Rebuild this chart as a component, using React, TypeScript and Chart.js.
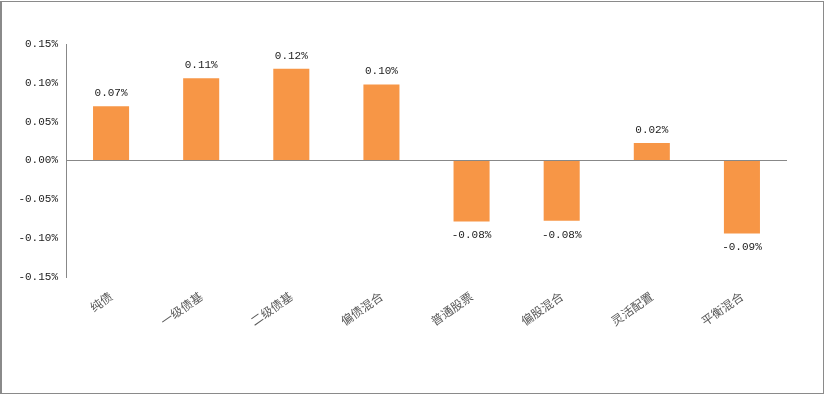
import React, { useEffect, useRef } from "react";
import { Chart, registerables } from "chart.js";

Chart.register(...registerables);

const categories = ["纯债", "一级债基", "二级债基", "偏债混合", "普通股票", "偏股混合", "灵活配置", "平衡混合"];
const values = [0.07, 0.106, 0.118, 0.098, -0.0785, -0.0777, 0.0224, -0.094];
const yMin = -0.15;
const yMax = 0.15;
const yStep = 0.05;

const fmt = (v: number) => `${(Math.round(v * 100 + 1e-9 * Math.sign(v)) / 100).toFixed(2)}%`;

const valueLabels = {
  id: "valueLabels",
  afterDatasetsDraw(chart: any) {
    const ctx = chart.ctx;
    const meta = chart.getDatasetMeta(0);
    ctx.save();
    ctx.font = "11px 'Liberation Mono', 'DejaVu Sans Mono', monospace";
    ctx.fillStyle = "#222";
    ctx.textAlign = "center";
    ctx.textBaseline = "middle";
    meta.data.forEach((bar: any, i: number) => {
      const v = values[i];
      const y = v >= 0 ? bar.y - 13 : bar.y + 14;
      ctx.fillText(fmt(v), bar.x, y);
    });
    ctx.restore();
  },
};

export default function App() {
  const ref = useRef<HTMLCanvasElement>(null);
  useEffect(() => {
    document.body.style.margin = "0";
    const chart = new Chart(ref.current!, {
      type: "bar",
      data: {
        labels: categories,
        datasets: [
          {
            data: values,
            backgroundColor: "#F79646",
            categoryPercentage: 1,
            barPercentage: 0.4,
          },
        ],
      },
      options: {
        animation: false,
        responsive: false,
        maintainAspectRatio: false,
        layout: { padding: { top: 42, right: 36, left: 0, bottom: 0 } },
        plugins: { legend: { display: false }, tooltip: { enabled: false } },
        scales: {
          x: {
            grid: { display: false, drawTicks: false },
            border: { display: false },
            ticks: {
              maxRotation: 35,
              minRotation: 35,
              padding: 12,
              color: "#595959",
              font: { family: "'Noto Sans CJK SC', sans-serif", size: 12 },
            },
            afterFit: (s: any) => {
              s.height = 115;
            },
          },
          y: {
            min: yMin,
            max: yMax,
            border: { display: true, color: "#888", width: 1 },
            grid: {
              drawTicks: false,
              color: (c: any) => (c.tick && Math.abs(c.tick.value) < 1e-9 ? "#888" : "transparent"),
              lineWidth: 1,
            },
            ticks: {
              stepSize: yStep,
              padding: 8,
              color: "#222",
              font: { family: "'Liberation Mono', 'DejaVu Sans Mono', monospace", size: 11 },
              callback: (v: any) => fmt(Number(v)),
            },
            afterFit: (s: any) => {
              s.width = 64;
            },
          },
        },
      },
      plugins: [valueLabels],
    });
    return () => chart.destroy();
  }, []);
  return (
    <div style={{ position: "relative", width: 827, height: 396, background: "#fff" }}>
      <div
        style={{
          position: "absolute",
          left: 0,
          top: 1,
          width: 824,
          height: 393,
          border: "1px solid #8a8a8a",
          borderWidth: "1px 1px 1px 2px",
          boxSizing: "border-box",
        }}
      >
        <canvas ref={ref} width={821} height={390} style={{ display: "block" }} />
      </div>
    </div>
  );
}
